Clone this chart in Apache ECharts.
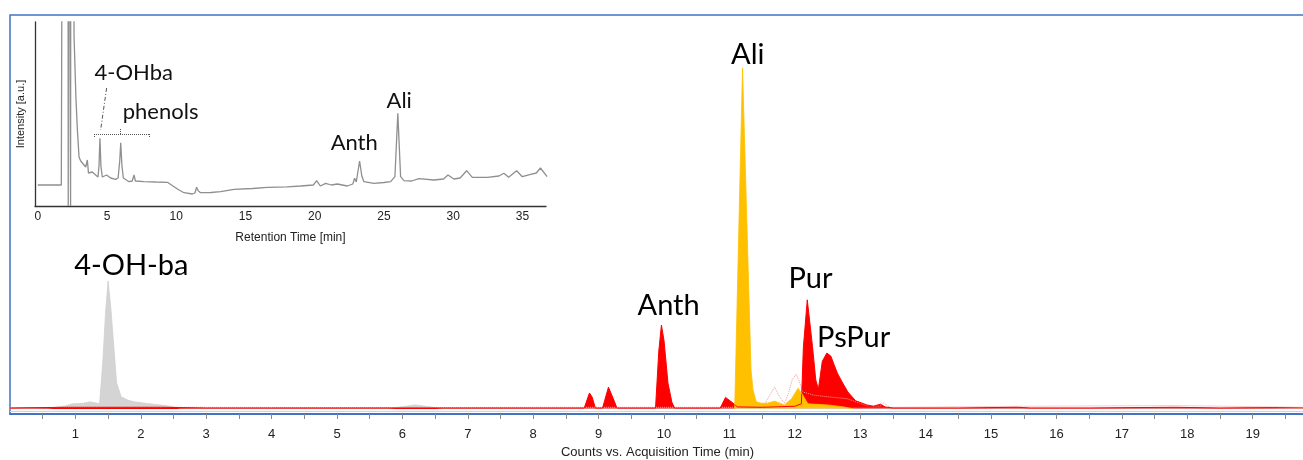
<!DOCTYPE html>
<html>
<head>
<meta charset="utf-8">
<script src="https://cdn.jsdelivr.net/npm/echarts@6/dist/echarts.min.js"></script>
<style>
  html, body { margin: 0; padding: 0; background: #fff; }
  #main { width: 1303px; height: 460px; }
</style>
</head>
<body>
<div id="main"></div>
<script>
var chartDom = document.getElementById('main');
var myChart = echarts.init(chartDom);
var option;

// main chromatogram (min, counts in arbitrary units, Ali = 100)
var greyTime   = [0, 0.3, 0.6, 0.85, 0.95, 1.1, 1.22, 1.3, 1.37, 1.42, 1.46, 1.50, 1.54, 1.58, 1.63, 1.70, 1.80, 1.90, 2.1, 2.42, 2.6, 3.0, 5.8, 6.05, 6.2, 6.35, 6.6, 8.0, 19.8];
var greyCounts = [0.2, 0.2, 0.3, 0.9, 1.5, 1.6, 2.1, 1.8, 1.5, 14, 28, 37.5, 30, 20, 7.6, 3.6, 2.6, 2.1, 1.6, 0.9, 0.3, 0.2, 0.2, 0.8, 1.2, 0.8, 0.2, 0.2, 0.2];

var redTime   = [0, 0.9, 2.3, 3.0, 4.0, 5.0, 6.0, 7.0, 8.0, 8.78, 8.86, 8.9, 8.95, 9.06, 9.15, 9.22, 9.28, 9.87, 9.92, 9.96, 10.0, 10.06, 10.12, 10.16, 10.86, 10.94, 11.05, 11.12, 11.5, 12.0, 12.1, 12.13, 12.19, 12.27, 12.32, 12.36, 12.42, 12.49, 12.55, 12.6, 12.65, 12.72, 12.81, 12.93, 13.1, 13.2, 13.31, 13.38, 13.5, 14.5, 15.4, 15.6, 16.5, 17.8, 18.5, 19.3, 19.8];
var redCounts = [0.3, 0.5, 0.5, 0.3, 0.3, 0.3, 0.3, 0.3, 0.3, 0.3, 4.7, 3.5, 0.3, 0.3, 6.4, 3.2, 0.3, 0.3, 17, 24.6, 20, 7.6, 2, 0.3, 0.3, 3.4, 1.8, 0.6, 0.5, 0.8, 1.5, 18, 32, 18.3, 8.5, 5.8, 14, 16.4, 15.5, 13, 10.5, 8, 5, 2.4, 1.2, 0.8, 1.4, 0.6, 0.3, 0.3, 0.5, 0.3, 0.3, 0.5, 0.3, 0.4, 0.3];

var orangeTime   = [11.08, 11.10, 11.20, 11.33, 11.36, 11.41, 11.48, 11.58, 11.69, 11.84, 11.95, 12.05, 12.12, 12.2, 12.5, 12.75, 12.9];
var orangeCounts = [0, 0.3, 100, 11.4, 5.6, 2.1, 1.7, 1.7, 2.3, 1.2, 3, 6.1, 4.1, 1.5, 1.2, 0.6, 0];

var pinkTime   = [0, 3, 6, 8, 11.4, 11.48, 11.55, 11.62, 11.69, 11.76, 11.84, 11.9, 11.96, 12.02, 12.07, 12.12, 12.3, 12.8, 13.1, 13.3, 13.36, 13.45, 15.5, 17.8, 19.8];
var pinkCounts = [0.4, 0.5, 0.4, 0.5, 0.5, 0.6, 1.8, 4.2, 6.4, 3.8, 1.7, 4.5, 8.6, 10.2, 8, 5, 4, 3, 1, 0.8, 1.8, 0.5, 0.8, 1.0, 0.5];

var mainTicks  = [1, 2, 3, 4, 5, 6, 7, 8, 9, 10, 11, 12, 13, 14, 15, 16, 17, 18, 19];
var halfTicks  = [0.5, 1, 1.5, 2, 2.5, 3, 3.5, 4, 4.5, 5, 5.5, 6, 6.5, 7, 7.5, 8, 8.5, 9, 9.5, 10, 10.5, 11, 11.5, 12, 12.5, 13, 13.5, 14, 14.5, 15, 15.5, 16, 16.5, 17, 17.5, 18, 18.5, 19, 19.5];
var peakNames  = ['4-OH-ba', 'Anth', 'Ali', 'Pur', 'PsPur'];

// inset chromatogram (min, intensity a.u.)
var insetTime = [0, 1.7, 1.76, 1.80, 2.18, 2.2, 2.22, 2.35, 2.37, 2.39, 2.55, 2.62, 2.75, 2.86, 2.98, 3.1, 3.22, 3.46, 3.58, 3.66, 3.94, 4.18, 4.35, 4.42, 4.49, 4.56, 4.66, 4.97, 5.26, 5.62, 5.8, 5.92, 5.99, 6.08, 6.18, 6.59, 6.82, 6.95, 7.05, 7.19, 7.67, 8.5, 9.36, 9.84, 10.2, 10.56, 11.16, 11.35, 11.47, 11.6, 11.76, 12.5, 13.2, 14.17, 15.5, 16.58, 18, 18.98, 19.9, 20.14, 20.4, 20.79, 21.2, 21.63, 22.35, 22.75, 22.88, 23.0, 23.24, 23.4, 23.55, 24.27, 25.0, 25.48, 25.79, 26.0, 26.2, 26.44, 27.0, 27.52, 28.6, 29.3, 29.62, 30.05, 30.5, 30.97, 31.38, 32.46, 33.3, 33.66, 34.0, 34.58, 34.99, 35.59, 36.0, 36.3, 36.78];
var insetIntensity = [21, 21, 22, 500, 500, 0, 500, 500, 0, 500, 500, 170, 110, 76, 49, 45, 43, 39, 46, 33, 34, 31, 29, 40, 67.7, 40, 29, 31, 28, 26.7, 28, 45, 63.3, 40, 28, 24.3, 25, 31, 25, 23.3, 24.3, 24, 23.7, 19.3, 16, 13.3, 12, 13, 18.7, 15, 13.3, 13.5, 14.3, 16.7, 17.5, 18.7, 19.2, 20, 21, 25.3, 20, 22.7, 21, 22, 20, 22, 27.7, 24, 45, 30, 24.3, 22.7, 23.5, 24.3, 29.3, 92.7, 29.3, 25.3, 25, 27.3, 26, 27, 31, 27, 28, 35.3, 28.7, 28.7, 30, 32.7, 28.7, 35.3, 29.3, 31.7, 33, 38, 29.3];
var insetTicks = [0, 5, 10, 15, 20, 25, 30, 35];
var insetNames = ['4-OHba', 'phenols', 'Anth', 'Ali'];

function pairs(xs, ys) {
    return xs.map(function (x, i) { return [x, ys[i]]; });
}

var bigLabel = { show: true, position: 'inside', formatter: '{b}', fontFamily: 'Lato', fontSize: 29, color: '#000' };
var smallLabel = { show: true, position: 'inside', formatter: '{b}', fontFamily: 'Lato', fontSize: 22, color: '#111' };
var noSymbol = { symbol: 'circle', symbolSize: 1, itemStyle: { color: 'rgba(0,0,0,0)' } };

option = {
    animation: false,
    backgroundColor: '#fff',
    grid: [
        { left: 10, right: -2, top: 15, bottom: 46, outerBoundsMode: 'none', show: true, borderColor: '#4472c4', borderWidth: 1.5 },
        { left: 35, top: 22, width: 511, height: 184, outerBoundsMode: 'none' }
    ],
    xAxis: [
        {
            gridIndex: 0, type: 'value', min: 0, max: 19.8,
            name: 'Counts vs. Acquisition Time (min)', nameLocation: 'middle', nameGap: 32,
            nameTextStyle: { fontFamily: 'Liberation Sans', fontSize: 13, color: '#222' },
            axisLine: { onZero: false, lineStyle: { color: '#4472c4', width: 2 } },
            axisTick: { customValues: halfTicks, length: 5, lineStyle: { color: '#888' } },
            axisLabel: { customValues: mainTicks, margin: 14, fontFamily: 'Liberation Sans', fontSize: 13, color: '#222' },
            splitLine: { show: false }
        },
        {
            gridIndex: 1, type: 'value', min: -0.2, max: 36.7,
            name: 'Retention Time [min]', nameLocation: 'middle', nameGap: 26,
            nameTextStyle: { fontFamily: 'Liberation Sans', fontSize: 12, color: '#222' },
            axisLine: { onZero: false, lineStyle: { color: '#333', width: 1.3 } },
            axisTick: { show: false },
            axisLabel: { customValues: insetTicks, margin: 5, fontFamily: 'Liberation Sans', fontSize: 12, color: '#222' },
            splitLine: { show: false }
        }
    ],
    yAxis: [
        { gridIndex: 0, type: 'value', min: -1.47, max: 115.5, show: false },
        {
            gridIndex: 1, type: 'value', min: 0, max: 184,
            name: 'Intensity [a.u.]', nameLocation: 'middle', nameGap: 9,
            nameTextStyle: { fontFamily: 'Liberation Sans', fontSize: 11, color: '#222' },
            axisLine: { show: true, onZero: false, lineStyle: { color: '#333', width: 1.3 } },
            axisTick: { show: false }, axisLabel: { show: false }, splitLine: { show: false }
        }
    ],
    series: [
        {
            type: 'line', xAxisIndex: 0, yAxisIndex: 0, data: pairs(greyTime, greyCounts),
            symbol: 'none', lineStyle: { color: '#cfcfcf', width: 0.8 },
            areaStyle: { color: '#d4d4d4', opacity: 1 },
            markPoint: Object.assign({ label: bigLabel, data: [{ name: peakNames[0], coord: [1.855, 42] }] }, noSymbol)
        },
        {
            type: 'line', xAxisIndex: 0, yAxisIndex: 0, data: pairs(pinkTime, pinkCounts),
            symbol: 'none', lineStyle: { color: '#f19a9a', width: 1, type: 'dotted' },
            markLine: {
                silent: true, symbol: 'none', label: { show: false },
                lineStyle: { color: '#c9d5ee', width: 1, type: 'solid' },
                data: [{ yAxis: -0.8 }]
            }
        },
        {
            type: 'line', xAxisIndex: 0, yAxisIndex: 0, data: pairs(redTime, redCounts),
            symbol: 'none', lineStyle: { color: '#ff0000', width: 1 },
            areaStyle: { color: '#ff0000', opacity: 1 },
            markPoint: Object.assign({
                label: bigLabel,
                data: [
                    { name: peakNames[1], coord: [10.07, 30.2] },
                    { name: peakNames[3], coord: [12.24, 38.1] },
                    { name: peakNames[4], coord: [12.9, 20.8] }
                ]
            }, noSymbol)
        },
        {
            type: 'line', xAxisIndex: 0, yAxisIndex: 0, data: pairs(orangeTime, orangeCounts),
            symbol: 'none', lineStyle: { color: '#ffc000', width: 0.8 },
            areaStyle: { color: '#ffc000', opacity: 1 },
            markPoint: Object.assign({ label: bigLabel, data: [{ name: peakNames[2], coord: [11.28, 104] }] }, noSymbol)
        },
        {
            type: 'line', xAxisIndex: 1, yAxisIndex: 1, data: pairs(insetTime, insetIntensity),
            symbol: 'none', clip: true, lineStyle: { color: '#8f8f8f', width: 1.3 },
            markLine: {
                silent: true, symbol: 'none', label: { show: false },
                lineStyle: { color: '#555', width: 1, type: 'dotted' },
                data: [
                    [{ coord: [4.06, 72] }, { coord: [8.03, 72] }],
                    [{ coord: [4.06, 72] }, { coord: [4.06, 69] }],
                    [{ coord: [8.03, 72] }, { coord: [8.03, 69] }],
                    [{ coord: [5.99, 72] }, { coord: [5.99, 77] }],
                    [{ coord: [4.97, 118], lineStyle: { type: [4, 2, 1, 2] } }, { coord: [4.54, 76] }]
                ]
            },
            markPoint: Object.assign({
                label: smallLabel,
                data: [
                    { name: insetNames[0], coord: [6.93, 133] },
                    { name: insetNames[1], coord: [8.87, 94] },
                    { name: insetNames[2], coord: [22.85, 63] },
                    { name: insetNames[3], coord: [26.1, 105] }
                ]
            }, noSymbol)
        }
    ]
};

myChart.setOption(option);
</script>
</body>
</html>
